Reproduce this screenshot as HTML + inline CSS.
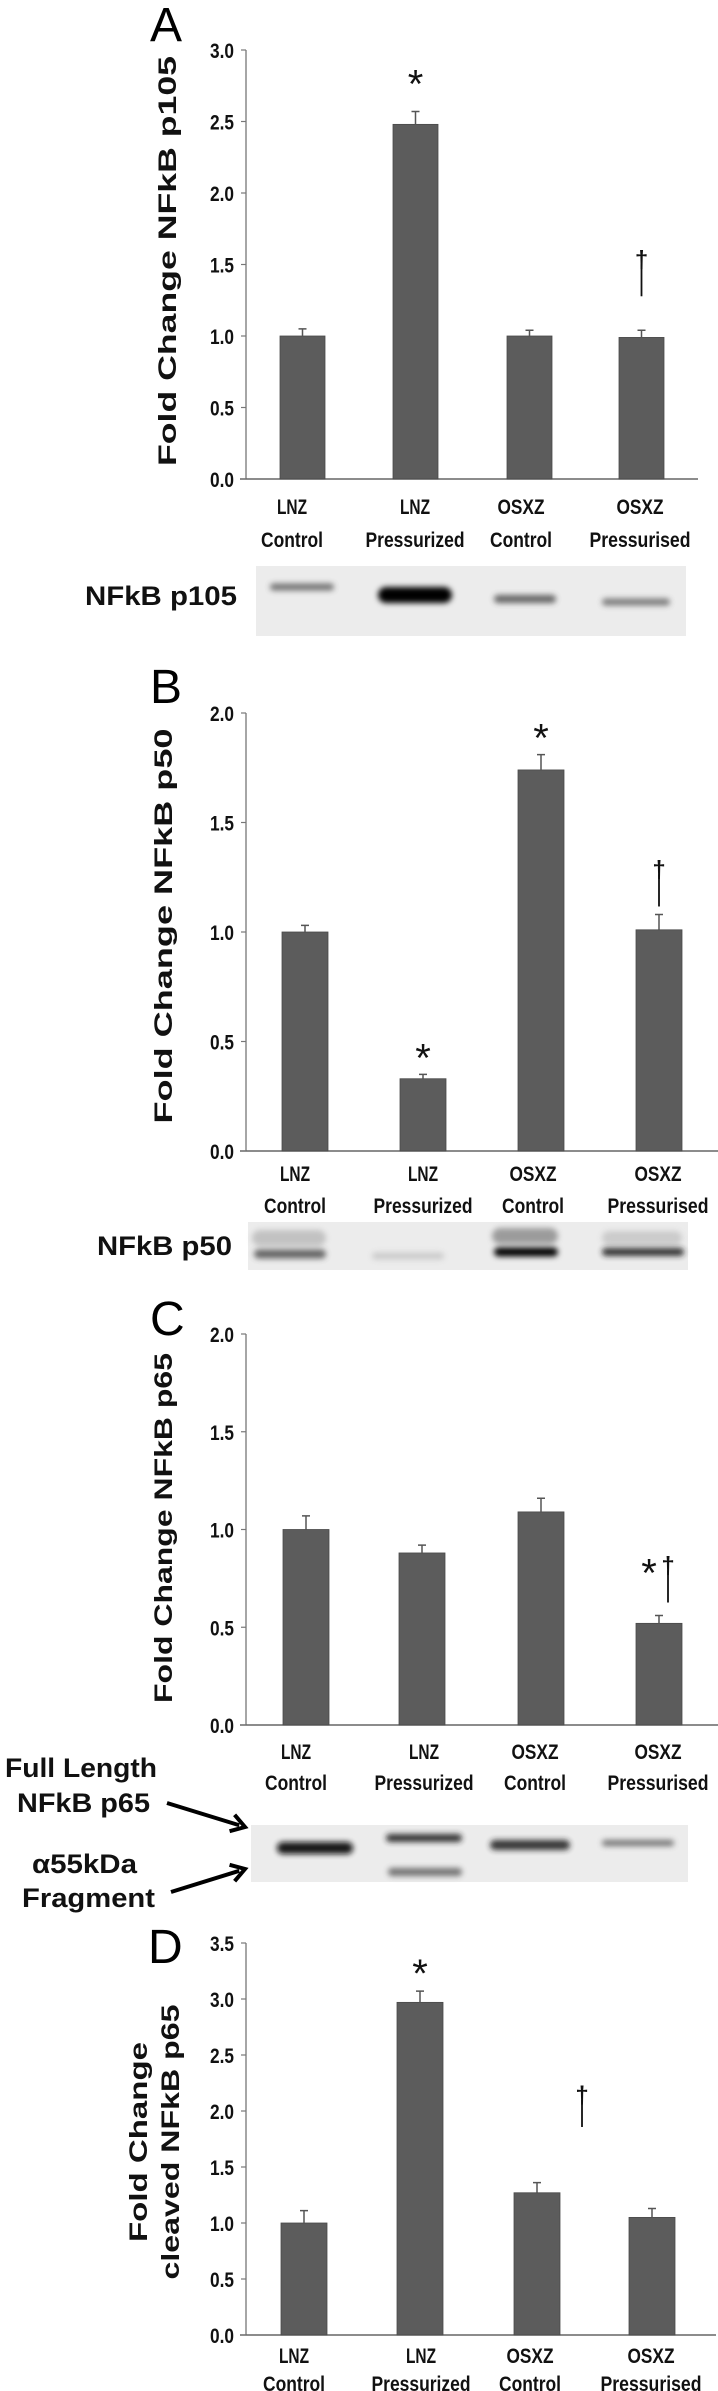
<!DOCTYPE html>
<html><head><meta charset="utf-8"><style>
html,body{margin:0;padding:0;background:#fff;}
svg{display:block;}
text{font-family:"Liberation Sans",Arial,sans-serif;}
</style></head><body>
<svg id="fig" width="718" height="2391" viewBox="0 0 718 2391" xmlns="http://www.w3.org/2000/svg">
<defs>
<filter id="blur3" x="-20%" y="-100%" width="140%" height="300%"><feGaussianBlur stdDeviation="3"/></filter>
</defs>
</svg>
<script>
const categoriesTop = ['LNZ','LNZ','OSXZ','OSXZ'];
const categoriesBottom = ['Control','Pressurized','Control','Pressurised'];
const valuesA = [1.0, 2.48, 1.0, 0.99];
const errorsA = [0.05, 0.09, 0.04, 0.05];
const valuesB = [1.0, 0.33, 1.74, 1.01];
const errorsB = [0.03, 0.02, 0.07, 0.07];
const valuesC = [1.0, 0.88, 1.09, 0.52];
const errorsC = [0.07, 0.04, 0.07, 0.04];
const valuesD = [1.0, 2.97, 1.27, 1.05];
const errorsD = [0.11, 0.10, 0.09, 0.08];
const ticksA = ['0.0','0.5','1.0','1.5','2.0','2.5','3.0'];
const ticksB = ['0.0','0.5','1.0','1.5','2.0'];
const ticksC = ['0.0','0.5','1.0','1.5','2.0'];
const ticksD = ['0.0','0.5','1.0','1.5','2.0','2.5','3.0','3.5'];
const marksA = ['', '*', '', '†'];
const marksB = ['', '*', '*', '†'];
const marksC = ['', '', '', '*†'];
const marksD = ['', '*', '', ''];

const NS='http://www.w3.org/2000/svg';
const svg=document.getElementById('fig');
function mk(tag, attrs, parent){const e=document.createElementNS(NS,tag);for(const k in attrs)e.setAttribute(k,attrs[k]);(parent||svg).appendChild(e);return e;}
function txt(s, attrs, parent){const e=mk('text',attrs,parent);e.textContent=s;return e;}

const catWidthsTop=[30,30,47,47];
const catWidthsBot=[62,99,62,101];

function star(g,cx,cy){
  const st=txt('*',{x:cx,y:cy+17,'font-size':40,'text-anchor':'middle',fill:'#111'},g);
  
  
}
function dagger(g,cx,top,bottom){
  const dt=txt('†',{x:cx,y:top+17,'font-size':24,'font-weight':'bold','text-anchor':'middle',fill:'#111'},g);
  
  
  mk('line',{x1:cx,y1:top+14,x2:cx,y2:bottom,stroke:'#111','stroke-width':1.8},g);
}

function panel(cfg){
  const g=mk('g',{});
  
  
  const ax=cfg.ax, y0=cfg.y0, yTop=cfg.yTop, maxV=cfg.maxV;
  const yScale=v=>y0-(v/maxV)*(y0-yTop);
  const L=txt(cfg.letter,{x:cfg.letterX,y:cfg.letterY,'font-size':48,fill:'#000'},g);
  
  
  const ya=mk('line',{x1:ax,y1:yTop,x2:ax,y2:y0,stroke:'#777','stroke-width':1.3},g);
  
  
  const xa=mk('line',{x1:ax-6,y1:y0,x2:cfg.axEnd,y2:y0,stroke:'#666','stroke-width':1.6},g);
  
  
  cfg.ticks.forEach((t,i)=>{
    const v=parseFloat(t); const y=yScale(v);
    const tk=mk('line',{x1:ax-5,y1:y,x2:ax,y2:y,stroke:'#777','stroke-width':1.2},g);
    
    
    const tl=txt(t,{x:ax-12,y:y+8,'font-size':21,'font-weight':'bold','text-anchor':'end',textLength:24,lengthAdjust:'spacingAndGlyphs',fill:'#111'},g);
    
    
  });
  const tg=mk('g',{transform:'translate('+cfg.titleX+','+cfg.titleY+') rotate(-90)'},g);
  cfg.title.forEach((line,i)=>{
    const tt=txt(line.s,{x:0,y:line.dy,'font-size':25,'font-weight':'bold','text-anchor':'middle',textLength:line.len,lengthAdjust:'spacingAndGlyphs',fill:'#111'},tg);
    
    
  });
  cfg.values.forEach((v,i)=>{
    const x=cfg.barX[i], w=cfg.barW;
    const yt=yScale(v);
    const b=mk('rect',{x:x,y:yt,width:w,height:y0-yt,fill:'#5c5c5c',stroke:'#4a4a4a','stroke-width':0.8},g);
    
    
    const ye=yScale(v+cfg.errors[i]); const cx=x+w/2;
    const el=mk('path',{d:'M'+cx+' '+yt+'V'+ye+'M'+(cx-4)+' '+ye+'H'+(cx+4),stroke:'#555','stroke-width':1.5,fill:'none'},g);
    
    
    const m=cfg.marks[i];
    if(m){
      const two=m.length>1;
      if(m.indexOf('*')>=0){
        star(g, two?cx-10:cx, ye-cfg.starGap);
      }
      if(m.indexOf('†')>=0){
        const bottom=ye-cfg.dagGap;
        dagger(g, two?cx+9:cx, bottom-46, bottom);
      }
    }
    const c1=txt(categoriesTop[i],{x:cfg.labX[i],y:cfg.lab1Y,'font-size':21,'font-weight':'bold','text-anchor':'middle',textLength:catWidthsTop[i],lengthAdjust:'spacingAndGlyphs',fill:'#111'},g);
    
    
    const c2=txt(categoriesBottom[i],{x:cfg.labX[i],y:cfg.lab2Y,'font-size':21,'font-weight':'bold','text-anchor':'middle',textLength:catWidthsBot[i],lengthAdjust:'spacingAndGlyphs',fill:'#111'},g);
    
    
  });
  return g;
}

panel({name:'panel-a',letter:'A',letterX:150,letterY:41,ax:246,y0:479,yTop:50,maxV:3.0,axEnd:698,ticks:ticksA,
  values:valuesA,errors:errorsA,marks:marksA,barX:[280,393,507,619],barW:45,starGap:31,dagGap:34,
  labX:[292,415,521,640],lab1Y:514,lab2Y:547,titleX:176,titleY:261,title:[{s:'Fold Change NFkB p105',dy:0,len:410}]});
panel({name:'panel-b',letter:'B',letterX:150,letterY:703,ax:246,y0:1151,yTop:713,maxV:2.0,axEnd:718,ticks:ticksB,
  values:valuesB,errors:errorsB,marks:marksB,barX:[282,400,518,636],barW:46,starGap:20,dagGap:8,
  labX:[295,423,533,658],lab1Y:1181,lab2Y:1213,titleX:172,titleY:926,title:[{s:'Fold Change NFkB p50',dy:0,len:395}]});
panel({name:'panel-c',letter:'C',letterX:150,letterY:1335,ax:246,y0:1725,yTop:1334,maxV:2.0,axEnd:718,ticks:ticksC,
  values:valuesC,errors:errorsC,marks:marksC,barX:[283,399,518,636],barW:46,starGap:46,dagGap:13,
  labX:[296,424,535,658],lab1Y:1759,lab2Y:1790,titleX:172,titleY:1528,title:[{s:'Fold Change NFkB p65',dy:0,len:350}]});
const gD=panel({name:'panel-d',letter:'D',letterX:148,letterY:1963,ax:246,y0:2335,yTop:1943,maxV:3.5,axEnd:716,ticks:ticksD,
  values:valuesD,errors:errorsD,marks:marksD,barX:[281,397,514,629],barW:46,starGap:21,dagGap:10,
  labX:[294,421,530,651],lab1Y:2363,lab2Y:2391,titleX:154,titleY:2142,title:[{s:'Fold Change',dy:-7,len:200},{s:'cleaved NFkB p65',dy:25,len:275}]});
dagger(gD,582,2086,2127);

function blot(name,x,y,w,h,bands){
  const g=mk('g',{});
  
  
  mk('rect',{x:x,y:y,width:w,height:h,fill:'#ececec'},g);
  bands.forEach(b=>{
    const r=mk('rect',{x:b[0],y:b[1]-b[3]/2,width:b[2],height:b[3],rx:b[3]/2,fill:b[4],opacity:b[5],filter:'url(#blur3)'},g);
    
    
  });
}
blot('blot-p105',256,566,430,70,[[270,587,64,7,'#555',0.8],[378,595,74,16,'#000',1],[494,599,62,8,'#444',0.8],[602,602,68,7,'#555',0.75]]);
blot('blot-p50',248,1222,440,48,[[252,1238,74,16,'#999',0.5],[254,1254,72,9,'#444',0.8],[372,1256,72,7,'#aaa',0.5],[492,1236,66,16,'#666',0.6],[494,1252,64,9,'#000',1],[602,1238,80,14,'#aaa',0.5],[602,1252,82,8,'#222',0.9]]);
blot('blot-p65',251,1825,437,57,[[277,1848,76,12,'#111',0.95],[386,1838,76,8,'#222',0.9],[388,1872,74,8,'#555',0.8],[490,1845,80,10,'#222',0.9],[602,1843,72,6,'#555',0.8]]);

function lab(s,x,y,len,name){const t=txt(s,{x:x,y:y,'font-size':27,'font-weight':'bold',textLength:len,lengthAdjust:'spacingAndGlyphs',fill:'#111'});}
lab('NFkB p105',85,605,152,'blot-label-p105');
lab('NFkB p50',97,1255,135,'blot-label-p50');
lab('Full Length',5,1777,152,'blot-label-full-length');
lab('NFkB p65',17,1812,133,'blot-label-p65');
lab('α55kDa',32,1873,105,'blot-label-fragment');
lab('Fragment',22,1907,133,'blot-label-fragment-2');

function arrow(x1,y1,x2,y2){
  const ang=Math.atan2(y2-y1,x2-x1);
  const g=mk('g',{});
  
  
  mk('line',{x1:x1,y1:y1,x2:x2-6*Math.cos(ang),y2:y2-6*Math.sin(ang),stroke:'#000','stroke-width':4},g);
  const a1=ang+Math.PI*0.82,a2=ang-Math.PI*0.82,L=16;
  mk('path',{d:'M'+(x2+L*Math.cos(a1))+' '+(y2+L*Math.sin(a1))+'L'+x2+' '+y2+'L'+(x2+L*Math.cos(a2))+' '+(y2+L*Math.sin(a2)),stroke:'#000','stroke-width':4,fill:'none'},g);
}
arrow(167,1803,245,1827);
arrow(171,1892,245,1869);
</script>
</body></html>
